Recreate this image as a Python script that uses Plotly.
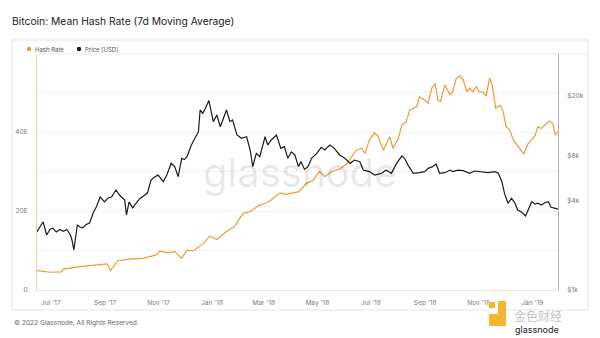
import plotly.graph_objects as go

# ---------------- data ----------------
price_dates = [
    "2017-06-04", "2017-06-11", "2017-06-15", "2017-06-19", "2017-06-22", "2017-06-26", "2017-06-30",
    "2017-07-04", "2017-07-08", "2017-07-12", "2017-07-14", "2017-07-16", "2017-07-20", "2017-07-23",
    "2017-07-26", "2017-07-30", "2017-08-03", "2017-08-07", "2017-08-11", "2017-08-15", "2017-08-20",
    "2017-08-24", "2017-08-28", "2017-09-02", "2017-09-06", "2017-09-10", "2017-09-12", "2017-09-14",
    "2017-09-17", "2017-09-21", "2017-09-25", "2017-09-29", "2017-10-02", "2017-10-08", "2017-10-12",
    "2017-10-16", "2017-10-20", "2017-10-24", "2017-10-26", "2017-10-30", "2017-11-04", "2017-11-08",
    "2017-11-12", "2017-11-16", "2017-11-19", "2017-11-22", "2017-11-27", "2017-12-03", "2017-12-05",
    "2017-12-07", "2017-12-10", "2017-12-13", "2017-12-17", "2017-12-22", "2017-12-26", "2017-12-30",
    "2018-01-06", "2018-01-10", "2018-01-13", "2018-01-18", "2018-01-23", "2018-01-29", "2018-02-02",
    "2018-02-05", "2018-02-09", "2018-02-13", "2018-02-19", "2018-02-22", "2018-02-26", "2018-03-04",
    "2018-03-09", "2018-03-13", "2018-03-17", "2018-03-21", "2018-03-25", "2018-03-29", "2018-04-01",
    "2018-04-05", "2018-04-09", "2018-04-13", "2018-04-19", "2018-04-24", "2018-04-28", "2018-05-04",
    "2018-05-09", "2018-05-15", "2018-05-21", "2018-05-27", "2018-06-01", "2018-06-07", "2018-06-11",
    "2018-06-18", "2018-06-24", "2018-07-02", "2018-07-07", "2018-07-13", "2018-07-19", "2018-07-25",
    "2018-07-28", "2018-08-01", "2018-08-07", "2018-08-14", "2018-08-20", "2018-08-24", "2018-08-29",
    "2018-09-02", "2018-09-06", "2018-09-12", "2018-09-18", "2018-09-21", "2018-09-27", "2018-10-03",
    "2018-10-10", "2018-10-16", "2018-10-24", "2018-10-31", "2018-11-08", "2018-11-12", "2018-11-16",
    "2018-11-19", "2018-11-23", "2018-11-27", "2018-12-01", "2018-12-04", "2018-12-08", "2018-12-13",
    "2018-12-16", "2018-12-20", "2018-12-24", "2018-12-27", "2018-12-31", "2019-01-04", "2019-01-08",
    "2019-01-11", "2019-01-15", "2019-01-19",
]
price_usd = [
    2460, 2870, 2340, 2560, 2600, 2450, 2550,
    2480, 2550, 2350, 2150, 1860, 2730, 2650,
    2610, 2750, 2815, 3290, 3650, 4210, 3900,
    4150, 4210, 4690, 4340, 4150, 4020, 3190,
    3900, 3560, 3840, 4100, 4210, 4490, 5470,
    5730, 5900, 5470, 5330, 5910, 7080, 6730,
    5760, 7650, 7500, 7850, 9400, 10970, 11500,
    16150, 15330, 16590, 18680, 13480, 14960, 12460,
    16150, 13480, 13840, 10970, 10420, 10680, 8700,
    6730, 8260, 7850, 10680, 9400, 10160, 10970,
    8930, 9160, 7650, 8450, 8060, 6730, 7270,
    6450, 6730, 7650, 8260, 9070, 8700, 9400,
    8930, 8060, 7650, 7080, 7450, 7270, 6380,
    6230, 5910, 6070, 6380, 6070, 7080, 7940,
    7650, 6890, 6070, 6130, 6230, 6550, 6730,
    7010, 6070, 6130, 6380, 6230, 6380, 6320,
    6070, 6290, 6230, 6130, 6230, 6070, 5330,
    4450, 3820, 4120, 3820, 3440, 3350, 3140,
    3440, 3910, 3770, 3820, 3720, 3850, 3910,
    3590, 3540, 3490,
]

hash_dates = [
    "2017-06-04", "2017-06-19", "2017-07-02", "2017-07-04", "2017-07-23", "2017-08-09", "2017-08-23",
    "2017-08-27", "2017-09-04", "2017-09-18", "2017-10-03", "2017-10-18", "2017-10-22", "2017-10-30",
    "2017-11-08", "2017-11-16", "2017-11-22", "2017-11-29", "2017-12-11", "2017-12-18", "2017-12-26",
    "2018-01-06", "2018-01-15", "2018-01-25", "2018-02-02", "2018-02-11", "2018-02-19", "2018-02-26",
    "2018-03-08", "2018-03-15", "2018-03-22", "2018-03-30", "2018-04-07", "2018-04-15", "2018-04-22",
    "2018-04-28", "2018-05-06", "2018-05-15", "2018-05-23", "2018-05-29", "2018-06-03", "2018-06-09",
    "2018-06-13", "2018-06-18", "2018-06-24", "2018-06-28", "2018-07-04", "2018-07-11", "2018-07-15",
    "2018-07-21", "2018-07-25", "2018-07-30", "2018-08-03", "2018-08-11", "2018-08-14", "2018-08-20",
    "2018-08-24", "2018-08-28", "2018-09-01", "2018-09-04", "2018-09-07", "2018-09-12", "2018-09-18",
    "2018-09-21", "2018-09-25", "2018-09-29", "2018-10-03", "2018-10-07", "2018-10-10", "2018-10-14",
    "2018-10-18", "2018-10-21", "2018-10-26", "2018-10-29", "2018-11-02", "2018-11-05", "2018-11-09",
    "2018-11-14", "2018-11-17", "2018-11-21", "2018-11-25", "2018-11-29", "2018-12-03", "2018-12-06",
    "2018-12-11", "2018-12-16", "2018-12-20", "2018-12-24", "2018-12-27", "2018-12-31", "2019-01-04",
    "2019-01-09", "2019-01-13", "2019-01-16", "2019-01-19",
]
hash_rate_eh = [
    4.9, 4.5, 4.6, 5.3, 5.9, 6.3, 6.6,
    4.9, 7.4, 7.8, 8.0, 8.9, 9.9, 9.4,
    9.7, 8.0, 10.1, 9.9, 11.8, 13.7, 12.8,
    14.8, 16.0, 19.4, 19.8, 21.3, 21.9, 22.8,
    24.6, 24.2, 24.5, 24.9, 27.0, 27.8, 30.0,
    28.7, 30.0, 30.6, 31.9, 33.7, 35.4, 35.9,
    34.6, 38.0, 39.8, 38.8, 35.4, 38.8, 35.9,
    38.4, 41.8, 42.6, 45.6, 46.4, 48.9, 48.1,
    47.3, 51.1, 52.3, 48.1, 47.7, 51.9, 49.4,
    50.2, 53.6, 54.2, 53.2, 50.2, 51.1, 50.2,
    51.5, 50.2, 50.0, 49.1, 53.6, 51.9, 46.0,
    46.8, 45.6, 41.3, 40.5, 38.0, 36.7, 35.9,
    34.4, 37.1, 38.0, 39.2, 41.3, 40.9, 41.8,
    42.8, 42.2, 39.2, 40.1,
]

hash_ticks = [0, 20, 40]
hash_tick_text = ["0", "20E", "40E"]
price_ticks = [1000, 4000, 8000, 20000]
price_tick_text = ["$1k", "$4k", "$8k", "$20k"]

TITLE = "Bitcoin: Mean Hash Rate (7d Moving Average)"
FOOTER = "© 2022 Glassnode, All Rights Reserved."

ORANGE = "#f09a37"
BLACK = "#1b1b1b"
FONT = "Inter"

# ---------------- layout geometry (pixels) ----------------
W, H = 600, 338
PL, PR, PT, PB = 37, 558, 54, 290  # plot area in px


def px_x(px):
    return (px - PL) / (PR - PL)


def px_y(py):
    return (PB - py) / (PB - PT)


fig = go.Figure()

fig.add_trace(go.Scatter(
    x=hash_dates, y=hash_rate_eh, name="Hash Rate", mode="lines",
    line=dict(color=ORANGE, width=1.2), yaxis="y", showlegend=False,
))
fig.add_trace(go.Scatter(
    x=price_dates, y=price_usd, name="Price [USD]", mode="lines",
    line=dict(color=BLACK, width=1.2), yaxis="y2", showlegend=False,
))

tick_font = dict(family=FONT, size=6.6, color="#7a7a7a")

fig.update_layout(
    width=W, height=H,
    margin=dict(l=PL, r=W - PR, t=PT, b=H - PB, pad=0),
    paper_bgcolor="white", plot_bgcolor="white",
    title=dict(text=TITLE, x=12 / W, xanchor="left", xref="container",
               y=1 - 21 / H, yanchor="middle", yref="container",
               font=dict(family=FONT, size=10.3, color="#222222")),
    xaxis=dict(
        type="date", range=["2017-06-04", "2019-01-19"],
        tick0="2017-07-01", dtick="M2", tickformat="%b '%y",
        showgrid=False, zeroline=False, showline=True, linecolor="#e6e6e6",
        ticks="", ticklabelstandoff=6, ticklabelshift=-10, tickfont=tick_font,
    ),
    yaxis=dict(
        range=[0, (PB - PT) / 3.95], tickvals=hash_ticks, ticktext=hash_tick_text,
        showgrid=True, gridcolor="#f2f2f2", gridwidth=1,
        minor=dict(dtick=10, showgrid=True, gridcolor="#f2f2f2"),
        zeroline=False, showline=True, linecolor="#eccfa6", linewidth=1,
        ticks="", ticklabelstandoff=7, tickfont=tick_font,
    ),
    yaxis2=dict(
        type="log", range=[3, 3 + (PB - PT) / 149.0], overlaying="y", side="right",
        tickvals=price_ticks, ticktext=price_tick_text,
        showgrid=False, zeroline=False, showline=True, linecolor="#b5b5b5", linewidth=1,
        ticks="", ticklabelstandoff=7, tickfont=tick_font,
    ),
    showlegend=False,
)

shapes = []
# outer frame
shapes.append(dict(type="rect", xref="paper", yref="paper",
                   x0=px_x(12), x1=px_x(588), y0=px_y(310), y1=px_y(40),
                   line=dict(color="#e4e4e4", width=1), fillcolor="rgba(0,0,0,0)", layer="below"))
# line under legend
shapes.append(dict(type="line", xref="paper", yref="paper",
                   x0=px_x(37), x1=px_x(588), y0=px_y(54), y1=px_y(54),
                   line=dict(color="#ececec", width=1), layer="below"))
# legend dots
for cx, col in [(29, ORANGE), (79, BLACK)]:
    shapes.append(dict(type="circle", xref="paper", yref="paper",
                       x0=px_x(cx - 2.2), x1=px_x(cx + 2.2), y0=px_y(49 + 2.2), y1=px_y(49 - 2.2),
                       line=dict(width=0), fillcolor=col))
# bottom-right watermark icon
shapes.append(dict(type="rect", xref="paper", yref="paper",
                   x0=px_x(489), x1=px_x(506), y0=px_y(326), y1=px_y(301),
                   line=dict(width=0), fillcolor="#f2b632", layer="above"))
shapes.append(dict(type="rect", xref="paper", yref="paper",
                   x0=px_x(489), x1=px_x(498), y0=px_y(314), y1=px_y(301),
                   line=dict(width=0), fillcolor="white", layer="above"))
shapes.append(dict(type="rect", xref="paper", yref="paper",
                   x0=px_x(489), x1=px_x(495), y0=px_y(308), y1=px_y(302),
                   line=dict(width=0), fillcolor="#f2b632", layer="above"))
fig.update_layout(shapes=shapes)

ann = []
ann.append(dict(text="Hash Rate", xref="paper", yref="paper", x=px_x(33), y=px_y(49),
                xanchor="left", yanchor="middle", showarrow=False,
                font=dict(family=FONT, size=6, color="#555555")))
ann.append(dict(text="Price [USD]", xref="paper", yref="paper", x=px_x(83), y=px_y(49),
                xanchor="left", yanchor="middle", showarrow=False,
                font=dict(family=FONT, size=6, color="#555555")))
ann.append(dict(text="glassnode", xref="paper", yref="paper", x=px_x(300), y=px_y(172),
                xanchor="center", yanchor="middle", showarrow=False,
                font=dict(family=FONT, size=40, color="rgba(0,0,0,0.09)")))
ann.append(dict(text=FOOTER, xref="paper", yref="paper", x=px_x(12), y=px_y(323),
                xanchor="left", yanchor="middle", showarrow=False,
                font=dict(family=FONT, size=6.6, color="#666666")))
ann.append(dict(text="金色财经", xref="paper", yref="paper", x=px_x(512), y=px_y(315.5),
                xanchor="left", yanchor="middle", showarrow=False,
                font=dict(family="Noto Sans CJK SC", size=12, color="rgba(150,150,150,0.6)")))
ann.append(dict(text="glassnode", xref="paper", yref="paper", x=px_x(513), y=px_y(329.5),
                xanchor="left", yanchor="middle", showarrow=False,
                font=dict(family=FONT, size=9, color="#222222")))
fig.update_layout(annotations=ann)

fig.write_html("out.html")
